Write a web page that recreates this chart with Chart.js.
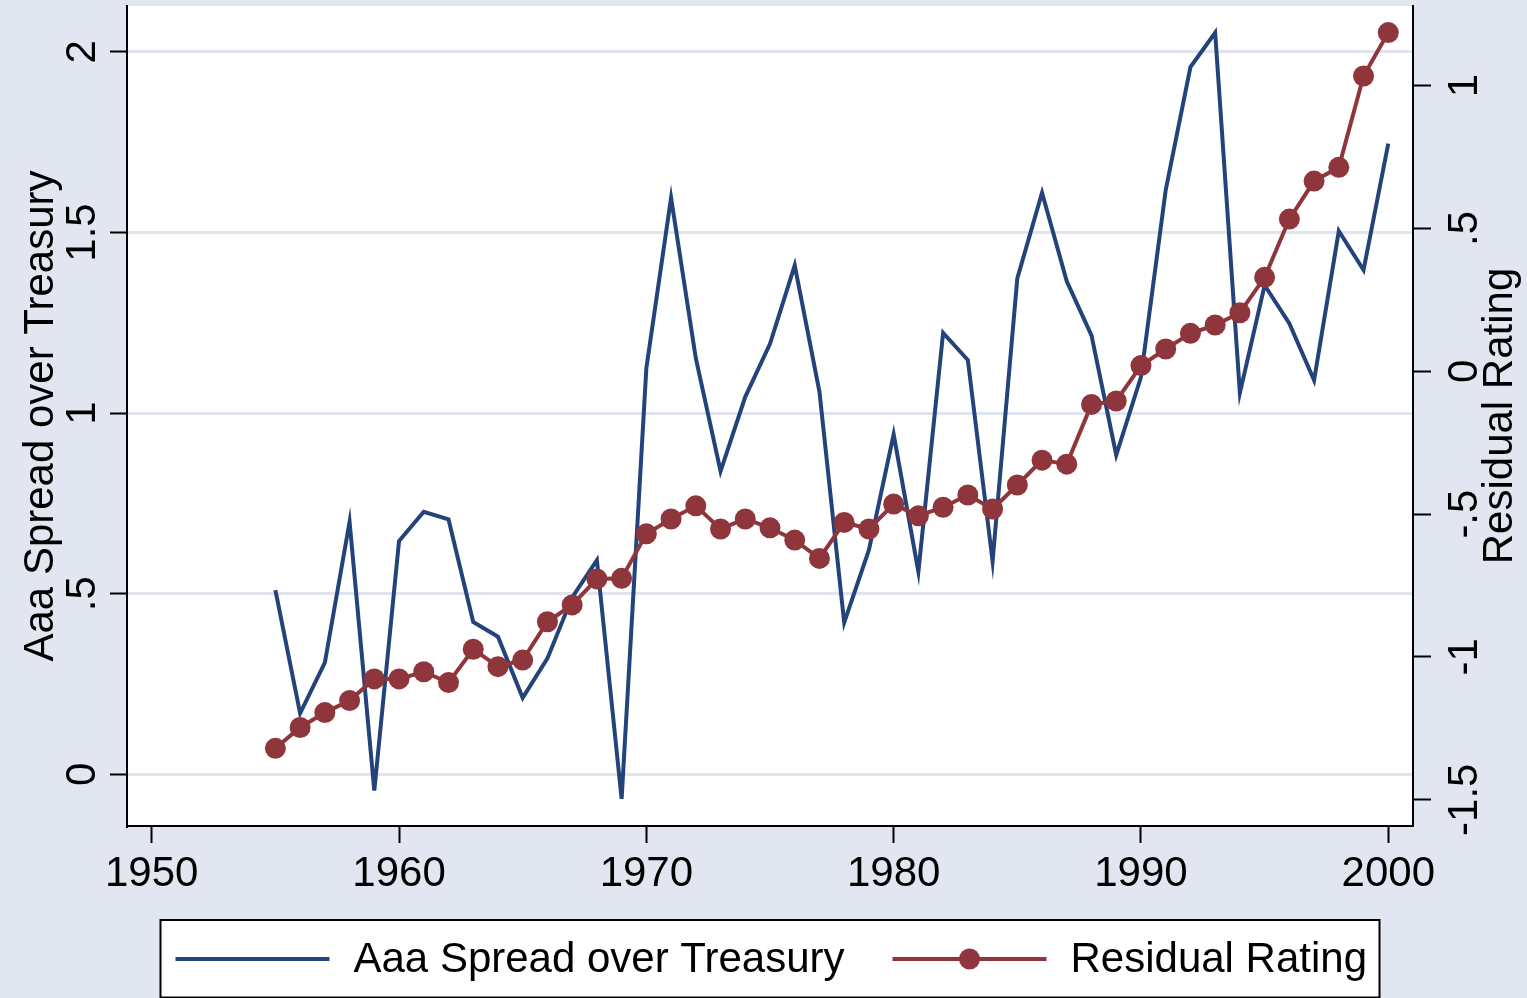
<!DOCTYPE html>
<html>
<head>
<meta charset="utf-8">
<script src="https://cdn.jsdelivr.net/npm/chart.js@4.4.1/dist/chart.umd.min.js"></script>
<style>
  html, body { margin: 0; padding: 0; background: #e1e6f0; }
  canvas { display: block; }
</style>
</head>
<body>
<canvas id="chart" width="1527" height="998"></canvas>
<script>
// values
const years = [1955, 1956, 1957, 1958, 1959, 1960, 1961, 1962, 1963, 1964,
  1965, 1966, 1967, 1968, 1969, 1970, 1971, 1972, 1973, 1974,
  1975, 1976, 1977, 1978, 1979, 1980, 1981, 1982, 1983, 1984,
  1985, 1986, 1987, 1988, 1989, 1990, 1991, 1992, 1993, 1994,
  1995, 1996, 1997, 1998, 1999, 2000];

const aaaSpread = [0.510, 0.169, 0.309, 0.699, -0.045, 0.646, 0.727, 0.706, 0.422, 0.381,
  0.212, 0.321, 0.490, 0.593, -0.068, 1.124, 1.596, 1.152, 0.839, 1.045,
  1.192, 1.409, 1.059, 0.420, 0.621, 0.941, 0.561, 1.222, 1.147, 0.590,
  1.373, 1.610, 1.365, 1.215, 0.884, 1.100, 1.617, 1.958, 2.053, 1.056,
  1.354, 1.248, 1.091, 1.504, 1.396, 1.746];

const residualRating = [-1.320, -1.247, -1.195, -1.153, -1.077, -1.077, -1.052, -1.090, -0.973, -1.034,
  -1.011, -0.877, -0.818, -0.727, -0.725, -0.569, -0.517, -0.471, -0.552, -0.517,
  -0.548, -0.591, -0.655, -0.529, -0.552, -0.465, -0.506, -0.476, -0.433, -0.482,
  -0.398, -0.311, -0.325, -0.116, -0.104, 0.020, 0.078, 0.133, 0.162, 0.205,
  0.329, 0.533, 0.666, 0.714, 1.034, 1.186];

const xTicks = [1950, 1960, 1970, 1980, 1990, 2000];
const leftTicks = [0, 0.5, 1, 1.5, 2];
const leftTickLabels = ['0', '.5', '1', '1.5', '2'];
const rightTicks = [-1.5, -1, -0.5, 0, 0.5, 1];
const rightTickLabels = ['-1.5', '-1', '-.5', '0', '.5', '1'];

const leftTitle = 'Aaa Spread over Treasury';
const rightTitle = 'Residual Rating';

const NAVY = '#23437a';
const MAROON = '#8f353c';
const BG = '#e1e6f0';
const GRID = '#dfe4ee';
const FONT = '"Liberation Sans", Arial, Helvetica, sans-serif';
const FS = 42;

function vText(ctx, text, x, y) {
  ctx.save();
  ctx.translate(x, y);
  ctx.rotate(-Math.PI / 2);
  ctx.textAlign = 'center';
  ctx.textBaseline = 'alphabetic';
  ctx.fillText(text, 0, 0);
  ctx.restore();
}

const decor = {
  id: 'decor',
  beforeDraw(chart) {
    const { ctx, chartArea: a } = chart;
    ctx.save();
    ctx.fillStyle = BG;
    ctx.fillRect(0, 0, chart.width, chart.height);
    ctx.fillStyle = '#ffffff';
    ctx.fillRect(a.left, a.top, a.right - a.left, a.bottom - a.top);
    ctx.restore();
  },
  afterDraw(chart) {
    const { ctx, chartArea: a } = chart;
    const yL = chart.scales.y;
    const yR = chart.scales.y2;
    const midY = (a.top + a.bottom) / 2;

    ctx.save();
    ctx.fillStyle = '#000';
    ctx.font = `${FS}px ${FONT}`;

    leftTicks.forEach((v, i) => vText(ctx, leftTickLabels[i], a.left - 32.5, yL.getPixelForValue(v)));
    rightTicks.forEach((v, i) => vText(ctx, rightTickLabels[i], a.right + 64, yR.getPixelForValue(v)));
    vText(ctx, leftTitle, a.left - 74, midY);
    vText(ctx, rightTitle, a.right + 99, midY);

    // legend
    const boxW = 1219;
    const boxL = (a.left + a.right) / 2 - boxW / 2;
    const boxT = 920;
    const rowY = 959;
    ctx.fillStyle = '#ffffff';
    ctx.fillRect(boxL, boxT, boxW, 78);
    ctx.strokeStyle = '#000';
    ctx.lineWidth = 2;
    ctx.strokeRect(boxL, boxT, boxW, 77.5);

    ctx.lineWidth = 4;
    let x = boxL + 15;
    ctx.strokeStyle = NAVY;
    ctx.beginPath(); ctx.moveTo(x, rowY); ctx.lineTo(x + 154, rowY); ctx.stroke();
    x += 154 + 24;
    ctx.fillStyle = '#000';
    ctx.textAlign = 'left';
    ctx.textBaseline = 'alphabetic';
    ctx.fillText(leftTitle, x, 972);
    x += ctx.measureText(leftTitle).width + 48;

    ctx.strokeStyle = MAROON;
    ctx.beginPath(); ctx.moveTo(x, rowY); ctx.lineTo(x + 154, rowY); ctx.stroke();
    ctx.fillStyle = MAROON;
    ctx.beginPath(); ctx.arc(x + 77, rowY, 10.5, 0, Math.PI * 2); ctx.fill();
    x += 154 + 24;
    ctx.fillStyle = '#000';
    ctx.fillText(rightTitle, x, 972);
    ctx.restore();
  }
};

new Chart(document.getElementById('chart'), {
  type: 'line',
  data: {
    datasets: [
      {
        label: leftTitle,
        data: years.map((yr, i) => ({ x: yr, y: aaaSpread[i] })),
        yAxisID: 'y',
        borderColor: NAVY,
        borderWidth: 4,
        pointRadius: 0,
        tension: 0,
        fill: false,
        order: 2
      },
      {
        label: rightTitle,
        data: years.map((yr, i) => ({ x: yr, y: residualRating[i] })),
        yAxisID: 'y2',
        borderColor: MAROON,
        backgroundColor: MAROON,
        borderWidth: 4,
        pointRadius: 10.5,
        pointBorderWidth: 0,
        pointBackgroundColor: MAROON,
        tension: 0,
        fill: false,
        order: 1
      }
    ]
  },
  options: {
    responsive: false,
    animation: false,
    events: [],
    layout: { autoPadding: false, padding: { top: 6, left: 0, right: 0, bottom: 0 } },
    plugins: { legend: { display: false }, tooltip: { enabled: false } },
    scales: {
      x: {
        type: 'linear',
        min: 1949,
        max: 2001,
        afterBuildTicks: s => { s.ticks = xTicks.map(v => ({ value: v })); },
        afterFit: s => { s.height = 172; },
        ticks: {
          color: '#000',
          font: { family: FONT, size: FS },
          padding: 6,
          maxRotation: 0,
          autoSkip: false,
          callback: v => String(v)
        },
        grid: { drawOnChartArea: false, drawTicks: true, tickLength: 17, tickColor: '#000', tickWidth: 2 },
        border: { display: true, color: '#000', width: 2 }
      },
      y: {
        position: 'left',
        min: -0.143,
        max: 2.127,
        afterBuildTicks: s => { s.ticks = leftTicks.map(v => ({ value: v })); },
        afterFit: s => { s.width = 127; },
        ticks: { display: false },
        grid: { color: GRID, lineWidth: 3, drawTicks: true, tickLength: 17, tickColor: '#000', tickWidth: 2 },
        border: { display: true, color: '#000', width: 2 }
      },
      y2: {
        position: 'right',
        min: -1.592,
        max: 1.279,
        afterBuildTicks: s => { s.ticks = rightTicks.map(v => ({ value: v })); },
        afterFit: s => { s.width = 114; },
        ticks: { display: false },
        grid: { drawOnChartArea: false, drawTicks: true, tickLength: 18, tickColor: '#000', tickWidth: 2 },
        border: { display: true, color: '#000', width: 2 }
      }
    }
  },
  plugins: [decor]
});
</script>
</body>
</html>
